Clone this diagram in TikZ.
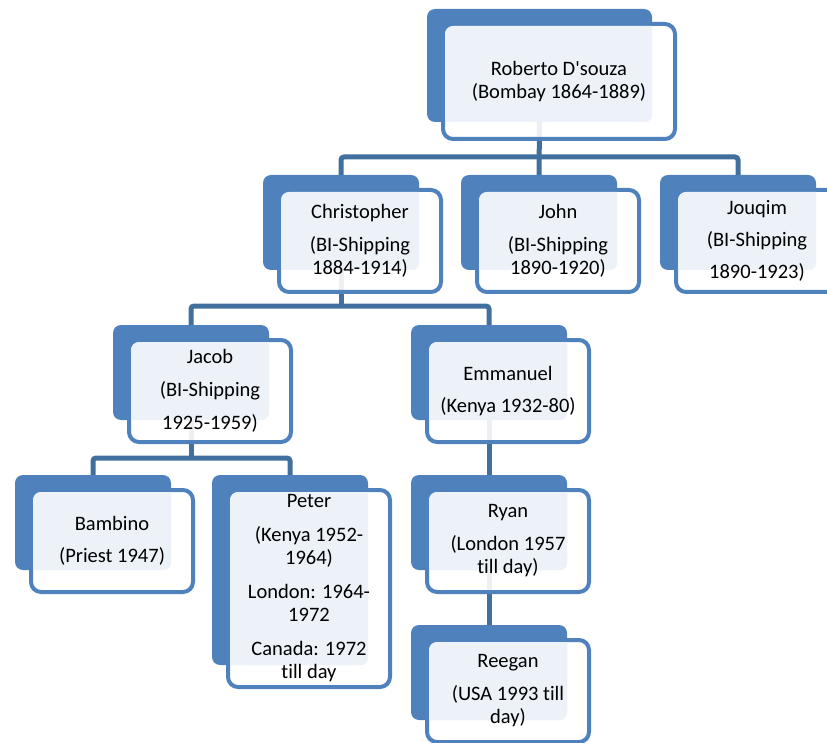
\documentclass[tikz,border=0pt]{standalone}
\usepackage{fontspec}
\setmainfont{Carlito}[Ligatures={TeXOff,CommonOff}]
\usetikzlibrary{calc}
\pgfdeclarelayer{bg}
\pgfsetlayers{bg,main}

\definecolor{accent}{HTML}{4F81BD}
\definecolor{connblue}{HTML}{41709F}
\definecolor{lightfill}{HTML}{EDF2F9}

\tikzset{
  backbox/.style={rectangle, rounded corners=8pt, fill=accent, anchor=north west,
    inner sep=0pt, outer sep=0pt},
  frontbox/.style={rectangle, rounded corners=10pt, draw=accent, line width=4pt,
    fill=white, fill opacity=0.9, anchor=north west, inner sep=0pt, outer sep=0pt},
  cardtext/.style={align=center, inner sep=0pt, text=black,
    font=\fontsize{20.5}{23}\selectfont},
  conn/.style={draw=connblue, line width=5pt, rounded corners=3pt},
}

% #1 name, #2 back top-left, #3/#4 back size, #5/#6 front size, #7 text
\newcommand\famcard[7]{%
  \node[backbox, minimum width=#3pt, minimum height=#4pt] (#1-b) at (#2) {};
  \node[frontbox, minimum width=#5pt, minimum height=#6pt] (#1)
    at ($(#1-b.north west)+(16,15)$) {};
  \begin{scope}
    \clip[rounded corners=8pt] ($(#1.north west)+(2,2)$) rectangle ($(#1.south east)+(-2,-2)$);
    \fill[lightfill, rounded corners=7pt] (#1-b.north west) rectangle (#1-b.south east);
  \end{scope}
  \node[cardtext] (#1-t) at (#1.center) {#7};
}

\begin{document}
\begin{tikzpicture}[x=1pt, y=-1pt]
\useasboundingbox (0,0) rectangle (827,743);
\clip (0,0) rectangle (827,743);

\famcard{rob}{427,9}{225}{113}{232}{115}{Roberto D'souza\\(Bombay 1864-1889)}

\famcard{chris}{263,175}{156}{95}{162}{102}{Christopher\\[10pt](BI-Shipping\\1884-1914)}
\famcard{john}{461,175}{156}{95}{162}{102}{John\\[10pt](BI-Shipping\\1890-1920)}
\famcard{jouq}{660,175}{156}{95}{162}{102}{Jouqim\\[9pt](BI-Shipping\\[9pt]1890-1923)}

\famcard{jacob}{113,325}{156}{95}{162}{102}{Jacob\\[10pt](BI-Shipping\\[10pt]1925-1959)}
\famcard{emm}{411,325}{156}{95}{162}{102}{Emmanuel\\[9pt](Kenya 1932-80)}

\famcard{bamb}{15,475}{156}{95}{162}{102}{Bambino\\[9pt](Priest 1947)}
\famcard{peter}{212,475}{156}{190}{162}{197}{Peter\\[11pt](Kenya 1952-\\1964)\\[11pt]London: 1964-\\1972\\[11pt]Canada: 1972\\till day}
\famcard{ryan}{411,475}{156}{95}{162}{102}{Ryan\\[10pt](London 1957\\till day)}
\famcard{reeg}{411,625}{156}{95}{162}{102}{Reegan\\[10pt](USA 1993 till\\day)}

% elbow connectors, kept behind the cards
\coordinate (bar1) at (0,157);
\coordinate (bar2) at (0,306);
\coordinate (bar3) at (0,458);
\begin{pgfonlayer}{bg}
  \draw[conn] (rob-b.south) -- (john-b.north);
  \draw[conn] (chris-b.north) -- (chris-b.north |- bar1) -- (jouq-b.north |- bar1) -- (jouq-b.north);
  \draw[conn] (chris-b.south) -- (chris-b.south |- bar2);
  \draw[conn] (jacob-b.north) -- (jacob-b.north |- bar2) -- (emm-b.north |- bar2) -- (emm-b.north);
  \draw[conn] (jacob-b.south) -- (jacob-b.south |- bar3);
  \draw[conn] (bamb-b.north) -- (bamb-b.north |- bar3) -- (peter-b.north |- bar3) -- (peter-b.north);
  \draw[conn] (emm-b.south) -- (ryan-b.north);
  \draw[conn] (ryan-b.south) -- (reeg-b.north);
\end{pgfonlayer}
\end{tikzpicture}
\end{document}
